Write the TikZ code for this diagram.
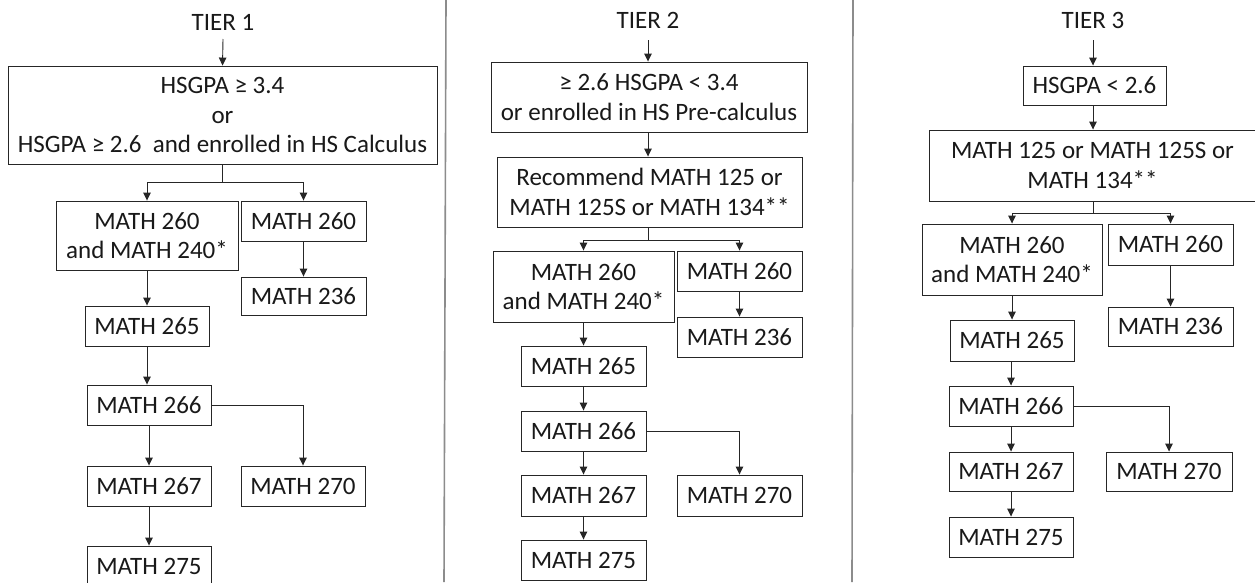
\documentclass[tikz,border=0pt]{standalone}
\usepackage{fontspec}
\setmainfont{Carlito}
\usetikzlibrary{arrows.meta}
\begin{document}
\begin{tikzpicture}[x=1pt,y=-1pt,
  bx/.style={draw=black!85,line width=0.9pt,inner sep=0pt,align=center,
    font=\fontsize{25}{29.5}\selectfont,text=black!90},
  ttl/.style={inner sep=0pt,font=\fontsize{25}{29.5}\selectfont,text=black!90},
  arr/.style={draw=black!85,line width=0.9pt,-{Triangle[length=8pt,width=7.5pt]}},
  ln/.style={draw=black!85,line width=0.9pt},
  divider/.style={draw=black!45,line width=1.6pt}]
\useasboundingbox (0,0) rectangle (1255,582);
\fill[white] (0,0) rectangle (1255,582);

% dividers
\coordinate (d1t) at (446,0); \coordinate (d1b) at (444,582);
\coordinate (d2t) at (853,0); \coordinate (d2b) at (852,582);
\draw[divider] (d1t) -- (d1b);
\draw[divider] (d2t) -- (d2b);

% ---------- TIER 1 ----------
\node[ttl] (t1) at (223,22) {TIER 1};
\coordinate (t1a) at (223,39);
\node[bx,minimum width=429pt,minimum height=98pt] (b1a) at (222.5,115)
  {HSGPA ≥ 3.4\\or\\HSGPA ≥ 2.6~ and enrolled in HS Calculus};
\node[bx,minimum width=182pt,minimum height=69pt] (b1L) at (147,235.5) {MATH 260\\and MATH 240*};
\node[bx,minimum width=125pt,minimum height=40pt] (b1R) at (303.5,221) {MATH 260};
\node[bx,minimum width=125pt,minimum height=38pt] (b1s) at (303.5,296) {MATH 236};
\node[bx,minimum width=124pt,minimum height=40pt] (b1c) at (147,326) {MATH 265};
\node[bx,minimum width=124pt,minimum height=40pt] (b1d) at (149,405) {MATH 266};
\node[bx,minimum width=124pt,minimum height=40pt] (b1e) at (149,486) {MATH 267};
\node[bx,minimum width=124pt,minimum height=40pt] (b1g) at (303,486) {MATH 270};
\node[bx,minimum width=124pt,minimum height=40pt] (b1f) at (149,566) {MATH 275};

\draw[arr] (t1a) -- (b1a.north);
\draw[ln] (b1a.south) -- ++(0,18) coordinate (f1);
\draw[arr] (f1) -| (b1L.north);
\draw[arr] (f1) -| (b1R.north);
\draw[arr] (b1R.south) -- (b1s.north);
\draw[arr] (b1L.south) -- (b1L.south |- b1c.north);
\draw[arr] (b1c.south) -- (b1c.south |- b1d.north);
\draw[arr] (b1d.south) -- (b1e.north);
\draw[arr] (b1e.south) -- (b1f.north);
\draw[arr] (b1d.east) -| (b1g.north);

% ---------- TIER 2 ----------
\node[ttl] (t2) at (648,20) {TIER 2};
\coordinate (t2a) at (648,40);
\node[bx,minimum width=316pt,minimum height=70pt] (b2a) at (649,97)
  {≥ 2.6 HSGPA < 3.4\\or enrolled in HS Pre-calculus};
\node[bx,minimum width=305pt,minimum height=70pt] (b2b) at (649.5,192)
  {Recommend MATH 125 or\\MATH 125S or MATH 134**};
\node[bx,minimum width=181pt,minimum height=71pt] (b2L) at (583.5,286.5) {MATH 260\\and MATH 240*};
\node[bx,minimum width=125pt,minimum height=40pt] (b2R) at (739.5,271) {MATH 260};
\node[bx,minimum width=125pt,minimum height=40pt] (b2s) at (739.5,337) {MATH 236};
\node[bx,minimum width=125pt,minimum height=40pt] (b2c) at (583.5,366) {MATH 265};
\node[bx,minimum width=125pt,minimum height=40pt] (b2d) at (583.5,431) {MATH 266};
\node[bx,minimum width=125pt,minimum height=41pt] (b2e) at (583.5,495.5) {MATH 267};
\node[bx,minimum width=125pt,minimum height=41pt] (b2g) at (739.5,495.5) {MATH 270};
\node[bx,minimum width=125pt,minimum height=40pt] (b2f) at (583.5,560) {MATH 275};

\draw[arr] (t2a) -- (b2a.north -| t2a);
\draw[arr] (b2a.south -| t2a) -- (b2b.north -| t2a);
\draw[ln] (b2b.south -| t2a) -- ++(0,13) coordinate (f2);
\draw[arr] (f2) -| (b2L.north);
\draw[arr] (f2) -| (b2R.north);
\draw[arr] (b2R.south) -- (b2s.north);
\draw[arr] (b2L.south) -- (b2c.north);
\draw[arr] (b2c.south) -- (b2d.north);
\draw[arr] (b2d.south) -- (b2e.north);
\draw[arr] (b2e.south) -- (b2f.north);
\draw[arr] (b2d.east) -| (b2g.north);

% ---------- TIER 3 ----------
\node[ttl] (t3) at (1093,20) {TIER 3};
\coordinate (t3a) at (1093,40);
\node[bx,minimum width=143pt,minimum height=39pt] (b3a) at (1094.5,85.5) {HSGPA < 2.6};
\node[bx,minimum width=327pt,minimum height=71pt] (b3b) at (1092.5,165.5)
  {MATH 125 or MATH 125S or\\MATH 134**};
\node[bx,minimum width=180pt,minimum height=71pt] (b3L) at (1012,259.5) {MATH 260\\and MATH 240*};
\node[bx,minimum width=125pt,minimum height=41pt] (b3R) at (1170.5,244.5) {MATH 260};
\node[bx,minimum width=125pt,minimum height=39pt] (b3s) at (1170.5,326.5) {MATH 236};
\node[bx,minimum width=124pt,minimum height=41pt] (b3c) at (1012,340.5) {MATH 265};
\node[bx,minimum width=124pt,minimum height=40pt] (b3d) at (1011,406) {MATH 266};
\node[bx,minimum width=124pt,minimum height=39pt] (b3e) at (1011,471.5) {MATH 267};
\node[bx,minimum width=126pt,minimum height=39pt] (b3g) at (1169,471.5) {MATH 270};
\node[bx,minimum width=124pt,minimum height=40pt] (b3f) at (1011,537) {MATH 275};

\draw[arr] (t3a) -- (b3a.north -| t3a);
\draw[arr] (b3a.south -| t3a) -- (b3b.north -| t3a);
\draw[ln] (b3b.south -| t3a) -- ++(0,12) coordinate (f3);
\draw[arr] (f3) -| (b3L.north);
\draw[arr] (f3) -| (b3R.north);
\draw[arr] (b3R.south) -- (b3s.north);
\draw[arr] (b3L.south) -- (b3L.south |- b3c.north);
\draw[arr] (b3c.south -| b3d) -- (b3d.north);
\draw[arr] (b3d.south) -- (b3e.north);
\draw[arr] (b3e.south) -- (b3f.north);
\draw[arr] (b3d.east) -| (b3g.north);
\end{tikzpicture}
\end{document}
